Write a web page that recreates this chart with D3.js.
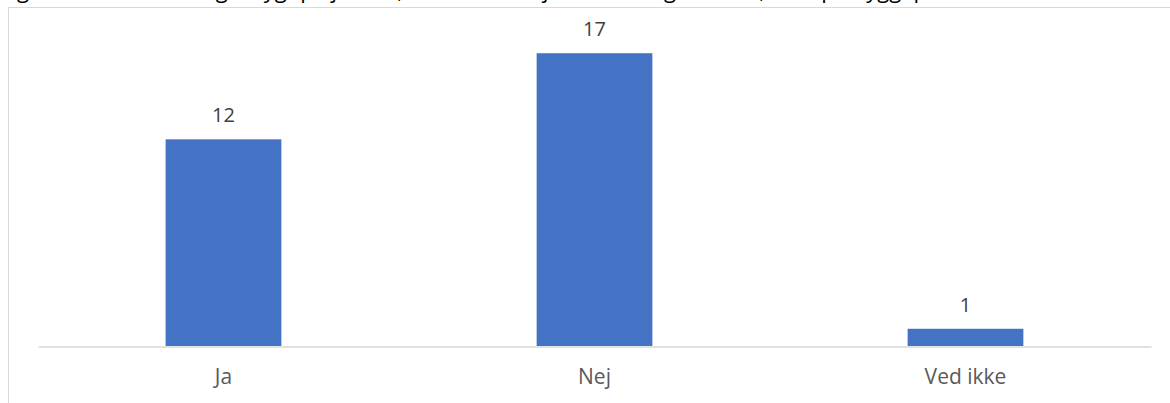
<!DOCTYPE html>
<html>
<head>
<meta charset="utf-8">
<script src="https://cdn.jsdelivr.net/npm/d3@7"></script>
<style>
  body { margin: 0; background: #fff; overflow: hidden; }
  svg { display: block; }
</style>
</head>
<body>
<div id="chart"></div>
<script>
// data
var categories = ["Ja", "Nej", "Ved ikke"];
var counts = [12, 17, 1];
var yTicks = [0, 18];

var svgWidth = 1170;
var svgHeight = 403;

var svg = d3.select("#chart")
  .append("svg")
  .attr("width", svgWidth)
  .attr("height", svgHeight);

// caption line from the page above, cut off at the top
svg.append("text")
  .attr("x", 0)
  .attr("y", -2)
  .style("font-family", "'Open Sans', sans-serif")
  .style("font-size", "22px")
  .style("fill", "#000")
  .text("Figur 6: Har du følt dig utrygt på jobbet, fordi du arbejder alene og i mørke, eller på byggepladsen?");

// chart frame
svg.append("rect")
  .attr("x", 8.5)
  .attr("y", 7.5)
  .attr("width", 1200)
  .attr("height", 420)
  .attr("fill", "none")
  .attr("stroke", "#d9d9d9")
  .attr("stroke-width", 1);

var x = d3.scaleBand()
  .domain(categories)
  .range([38, 1151])
  .padding(0);

var y = d3.scaleLinear()
  .domain(d3.extent(yTicks))
  .range([346, 36]);

var barW = x.bandwidth() * 0.312;

var chartGroup = svg.append("g");

// bars
chartGroup.selectAll("rect.bar")
  .data(counts)
  .enter()
  .append("rect")
  .attr("class", "bar")
  .attr("x", (d, i) => x(categories[i]) + x.bandwidth() / 2 - barW / 2)
  .attr("y", d => y(d))
  .attr("width", barW)
  .attr("height", d => y(0) - y(d))
  .attr("fill", "#4472c4");

// baseline axis
var xAxis = d3.axisBottom(x).tickSize(0).tickPadding(23);
var axisG = chartGroup.append("g")
  .attr("transform", `translate(0, ${y(0) + 0.5})`)
  .call(xAxis);
axisG.select(".domain").attr("stroke", "#d9d9d9").attr("stroke-width", 1.5);
axisG.selectAll("text")
  .style("font-family", "'Open Sans', sans-serif")
  .style("font-size", "21px")
  .style("fill", "#595959");

// value labels
chartGroup.selectAll("text.val")
  .data(counts)
  .enter()
  .append("text")
  .attr("class", "val")
  .attr("x", (d, i) => x(categories[i]) + x.bandwidth() / 2)
  .attr("y", d => y(d) - 17)
  .attr("text-anchor", "middle")
  .style("font-family", "'Open Sans', sans-serif")
  .style("font-size", "20px")
  .style("fill", "#404040")
  .text(d => d);
</script>
</body>
</html>
